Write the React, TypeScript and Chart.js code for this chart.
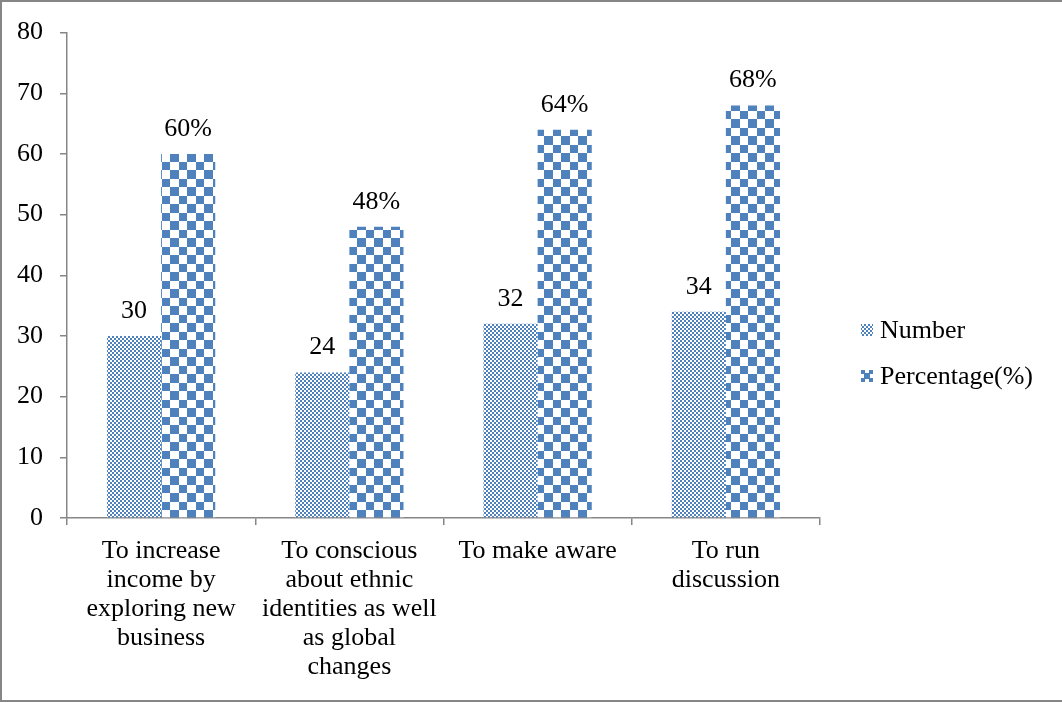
import React, { useEffect, useRef } from "react";
import { Chart, registerables } from "chart.js";
Chart.register(...registerables);

const categories: string[][] = [
  ["To increase", "income by", "exploring new", "business"],
  ["To conscious", "about ethnic", "identities as well", "as global", "changes"],
  ["To make aware"],
  ["To run", "discussion"],
];
const seriesNames = ["Number", "Percentage(%)"];
const numberValues = [30, 24, 32, 34];
const percentageValues = [60, 48, 64, 68];
const yMin = 0;
const yMax = 80;
const yStep = 10;

const FONT = "'Liberation Serif', 'Times New Roman', serif";
const FS = 26;
const BLUE = "#4F81BD";
const AXIS = "#868686";

function makeFinePattern(ctx: CanvasRenderingContext2D): CanvasPattern {
  const c = document.createElement("canvas");
  c.width = 4;
  c.height = 4;
  const g = c.getContext("2d")!;
  g.fillStyle = "#ffffff";
  g.fillRect(0, 0, 4, 4);
  g.fillStyle = BLUE;
  g.fillRect(0, 0, 2, 2);
  g.fillRect(2, 2, 2, 2);
  return ctx.createPattern(c, "repeat")!;
}

function makeBigPattern(ctx: CanvasRenderingContext2D): CanvasPattern {
  const c = document.createElement("canvas");
  c.width = 17;
  c.height = 17;
  const g = c.getContext("2d")!;
  g.fillStyle = "#ffffff";
  g.fillRect(0, 0, 17, 17);
  g.fillStyle = BLUE;
  g.fillRect(0, 0, 9, 9);
  g.fillRect(9, 9, 8, 8);
  return ctx.createPattern(c, "repeat")!;
}

export default function App() {
  const ref = useRef<HTMLCanvasElement | null>(null);
  useEffect(() => {
    document.body.style.margin = "0";
    const canvas = ref.current!;
    const ctx = canvas.getContext("2d")!;
    const fine = makeFinePattern(ctx);
    const big = makeBigPattern(ctx);

    const framePlugin = {
      id: "frame",
      beforeDraw(chart: any) {
        const c = chart.ctx;
        c.save();
        c.fillStyle = "#ffffff";
        c.fillRect(0, 0, chart.width, chart.height);
        c.strokeStyle = AXIS;
        c.lineWidth = 2;
        c.beginPath();
        c.moveTo(1, 0);
        c.lineTo(1, 702);
        c.moveTo(0, 1);
        c.lineTo(chart.width, 1);
        c.moveTo(0, 701);
        c.lineTo(chart.width, 701);
        c.stroke();
        c.restore();
      },
    };

    const labelPlugin = {
      id: "valueLabels",
      afterDatasetsDraw(chart: any) {
        const c = chart.ctx;
        c.save();
        c.font = `${FS}px ${FONT}`;
        c.fillStyle = "#000000";
        c.textAlign = "center";
        c.textBaseline = "middle";
        chart.data.datasets.forEach((ds: any, di: number) => {
          const meta = chart.getDatasetMeta(di);
          meta.data.forEach((el: any, i: number) => {
            const v = ds.data[i];
            const txt = di === 1 ? `${v}%` : `${v}`;
            c.fillText(txt, el.x, el.y - 25);
          });
        });
        c.restore();
      },
    };

    const legendPlugin = {
      id: "customLegend",
      afterDraw(chart: any) {
        const c = chart.ctx;
        c.save();
        const x = 861;
        const ys = [330, 376];
        ys.forEach((y, i) => {
          if (i === 0) {
            c.fillStyle = fine;
            c.fillRect(x, y - 6, 12, 12);
          } else {
            c.fillStyle = BLUE;
            c.fillRect(x, y - 6, 12, 12);
            c.fillStyle = "#ffffff";
            c.fillRect(x + 4, y - 6, 4, 3);
            c.fillRect(x + 4, y + 3, 4, 3);
            c.fillRect(x, y - 2, 3, 4);
            c.fillRect(x + 9, y - 2, 3, 4);
          }
          c.font = `${FS}px ${FONT}`;
          c.fillStyle = "#000000";
          c.textAlign = "left";
          c.textBaseline = "middle";
          c.fillText(seriesNames[i], 880, y + 1);
        });
        c.restore();
      },
    };

    const chart = new Chart(canvas, {
      type: "bar",
      data: {
        labels: categories,
        datasets: [
          {
            label: seriesNames[0],
            data: numberValues,
            backgroundColor: fine,
            borderWidth: 0,
            categoryPercentage: 0.575,
            barPercentage: 1,
          },
          {
            label: seriesNames[1],
            data: percentageValues,
            backgroundColor: big,
            borderWidth: 0,
            categoryPercentage: 0.575,
            barPercentage: 1,
          },
        ],
      },
      options: {
        responsive: false,
        animation: false,
        devicePixelRatio: 1,
        layout: { padding: { left: 0, top: 31, right: 242, bottom: 0 } },
        plugins: {
          legend: { display: false },
          tooltip: { enabled: false },
        },
        scales: {
          x: {
            offset: true,
            grid: {
              offset: true,
              drawOnChartArea: false,
              drawTicks: true,
              tickLength: 7,
              color: AXIS,
              lineWidth: 1.5,
            },
            border: { display: true, color: AXIS, width: 1.5 },
            ticks: {
              color: "#000000",
              font: { family: FONT, size: FS, lineHeight: 29 / FS },
              padding: 12,
              autoSkip: false,
              maxRotation: 0,
              minRotation: 0,
            },
            afterFit(scale: any) {
              scale.height = 185;
            },
          },
          y: {
            min: yMin,
            max: yMax,
            ticks: {
              stepSize: yStep,
              color: "#000000",
              font: { family: FONT, size: FS },
              padding: 17,
            },
            grid: {
              drawOnChartArea: false,
              drawTicks: true,
              tickLength: 7,
              color: AXIS,
              lineWidth: 1.5,
            },
            border: { display: true, color: AXIS, width: 1.5 },
            afterFit(scale: any) {
              scale.width = 67;
            },
          },
        },
      },
      plugins: [framePlugin, labelPlugin, legendPlugin],
    } as any);
    return () => chart.destroy();
  }, []);

  return (
    <div style={{ position: "absolute", left: 0, top: 0, width: 1062, height: 703 }}>
      <canvas ref={ref} width={1062} height={703} style={{ display: "block" }} />
    </div>
  );
}
